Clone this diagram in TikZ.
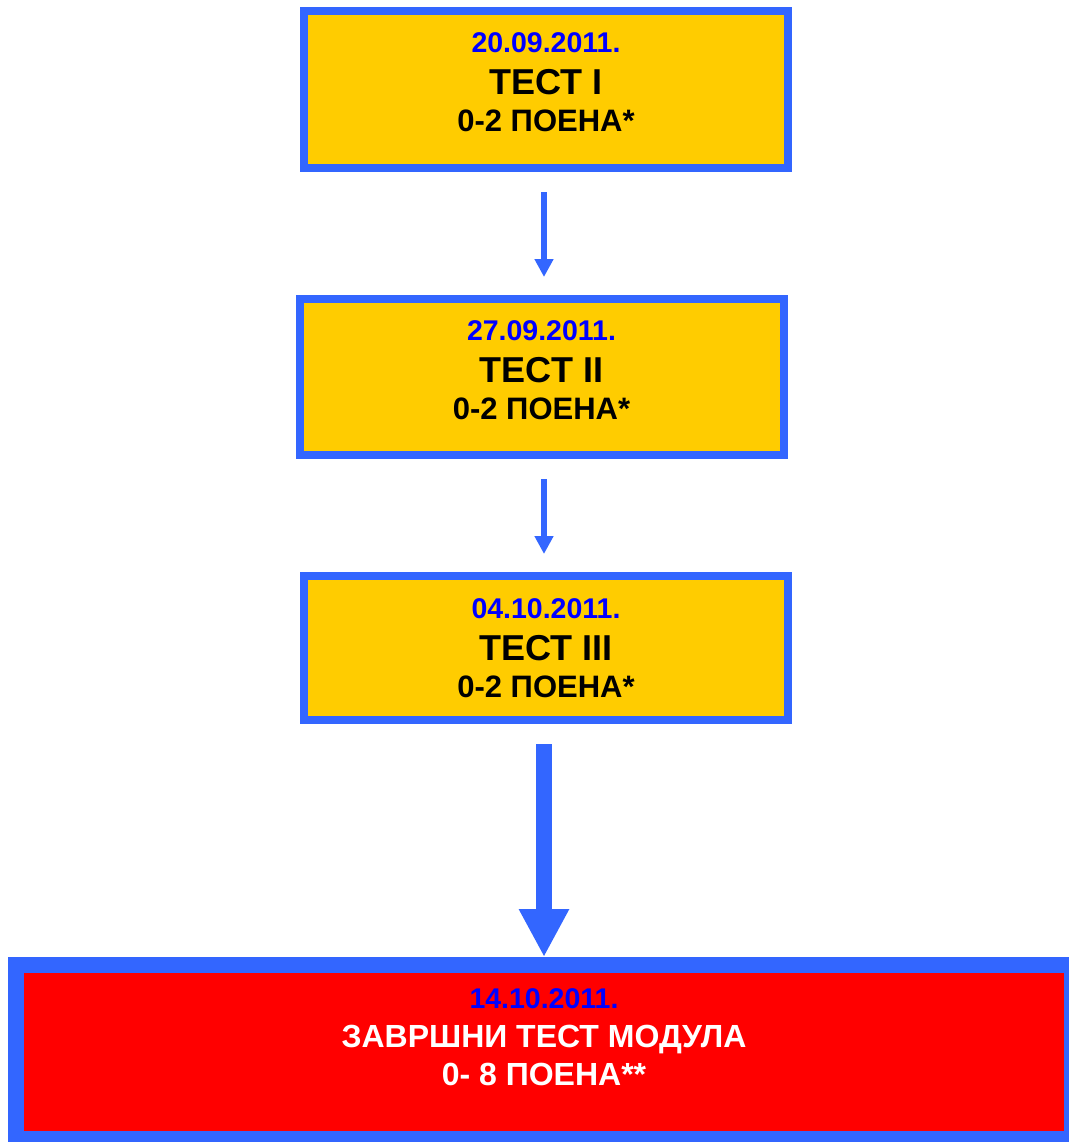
\documentclass[tikz,border=0pt]{standalone}
\usepackage{fontspec}
\setmainfont{Liberation Sans}
\usetikzlibrary{arrows.meta}
\definecolor{frameblue}{HTML}{3366FF}
\definecolor{testyellow}{HTML}{FFCC00}
\definecolor{dateblue}{HTML}{0000FF}
\definecolor{finalred}{HTML}{FF0000}
\newcommand{\datesize}{\fontsize{28.5}{42}\selectfont}
\newcommand{\titlesize}{\fontsize{36}{42}\selectfont}
\newcommand{\pointsize}{\fontsize{31}{42}\selectfont}
\newcommand{\padbelow}[1]{\rule[-#1]{0pt}{0pt}}

\begin{document}
\begin{tikzpicture}[x=1pt, y=-1pt,
    testbox/.style={draw=frameblue, fill=testyellow, line width=8pt, minimum width=484pt, minimum height=157pt, inner sep=0pt, align=center, font=\bfseries\fontsize{31}{42}\selectfont},
    finalbox/.style={draw=frameblue, fill=finalred, line width=16pt, minimum width=1056pt, minimum height=174pt, inner sep=0pt, align=center, text=white, font=\bfseries\fontsize{32}{38.5}\selectfont},
    flowarrow/.style={-{Triangle[width=18pt,length=18pt]}, frameblue, line width=6pt, shorten <=20pt, shorten >=18pt},
    bigarrow/.style={-{Triangle[width=47pt,length=48pt]}, frameblue, line width=16pt, shorten <=20pt}
]
    \useasboundingbox (0,0) rectangle (1068,1142);

    % Tests
    \node[testbox] (test1) at (546,89.5) {{\color{dateblue}\datesize 20.09.2011.}\\{\titlesize ТЕСТ I}\\[-4.5pt]{\pointsize 0-2 ПОЕНА*}\padbelow{15pt}};
    \node[testbox, minimum height=156pt] (test2) at (541.5,377) {{\color{dateblue}\datesize 27.09.2011.}\\{\titlesize ТЕСТ II}\\[-4.5pt]{\pointsize 0-2 ПОЕНА*}\padbelow{14pt}};
    \node[testbox, minimum height=144pt] (test3) at (546,648) {{\color{dateblue}\datesize 04.10.2011.}\\{\titlesize ТЕСТ III}\\[-4.5pt]{\pointsize 0-2 ПОЕНА*}};

    % Final test
    \node[finalbox] (final) at (544,1052) {{\color{dateblue}\datesize 14.10.2011.}\\ЗАВРШНИ ТЕСТ МОДУЛА\\0- 8 ПОЕНА**\padbelow{29pt}};

    % Arrows
    \draw[flowarrow] (test1.south -| final) -- (test2.north -| final);
    \draw[flowarrow] (test2.south -| final) -- (test3.north -| final);
    \draw[bigarrow] (test3.south -| final) -- (final);
\end{tikzpicture}
\end{document}
